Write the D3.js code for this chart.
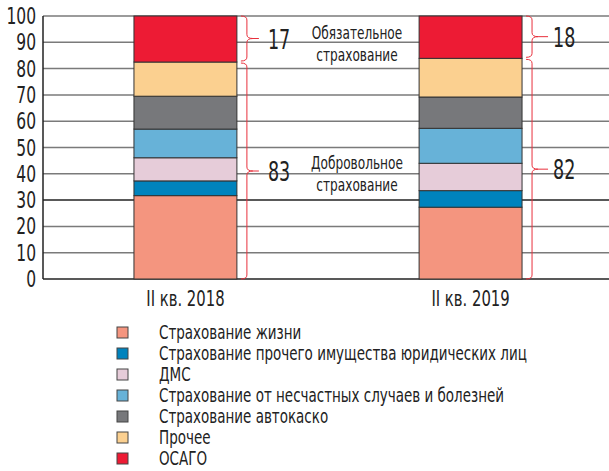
<!DOCTYPE html>
<html>
<head>
<meta charset="utf-8">
<script src="https://cdn.jsdelivr.net/npm/d3@7"></script>
<style>
  body { margin: 0; background: #fff; }
  text { font-family: "DejaVu Sans Condensed", "Liberation Sans Narrow", sans-serif; fill: #222; }
</style>
</head>
<body>
<svg id="chart"></svg>
<script>
// Data
const periods = ['II кв. 2018', 'II кв. 2019'];
const seriesNames = [
  'Страхование жизни',
  'Страхование прочего имущества юридических лиц',
  'ДМС',
  'Страхование от несчастных случаев и болезней',
  'Страхование автокаско',
  'Прочее',
  'ОСАГО'
];
const seriesColors = ['#f4957f', '#0083bd', '#e6ccd9', '#67b2d8', '#77787b', '#fbd090', '#ed1b34'];
const values2018 = [31.7, 5.6, 8.8, 10.9, 12.5, 13.0, 17.5];
const values2019 = [27.3, 6.3, 10.4, 13.3, 11.9, 14.7, 16.1];
const yTicks = [0, 10, 20, 30, 40, 50, 60, 70, 80, 90, 100];
const mandatoryShare = [17, 18];
const voluntaryShare = [83, 82];

const width = 609;
const height = 471;
const plotLeft = 43;
const plotRight = 609;
const plotTop = 16;
const plotBottom = 279;
const squeeze = 0.75; // the original font is much narrower

const svg = d3.select('#chart')
  .attr('width', width)
  .attr('height', height);

// narrow text helper
function label(parent, tx, ty, str, size, anchor) {
  return parent.append('g')
    .attr('transform', `translate(${tx},${ty}) scale(${squeeze},1)`)
    .append('text')
    .attr('text-anchor', anchor || 'start')
    .attr('font-size', size + 'px')
    .text(str);
}

// Scales
const y = d3.scaleLinear().domain([0, 100]).range([plotBottom, plotTop]);
const x = d3.scaleBand()
  .domain(periods)
  .range([plotLeft, 613])
  .paddingInner(0.639)
  .paddingOuter(0.319);

// Grid lines
svg.append('g')
  .selectAll('line')
  .data(yTicks)
  .enter()
  .append('line')
  .attr('x1', plotLeft)
  .attr('x2', plotRight)
  .attr('y1', d => y(d))
  .attr('y2', d => y(d))
  .attr('stroke', d => (d === 0 || d === 30) ? '#222' : '#7a7a7a')
  .attr('stroke-width', 1.5);

// Left axis line
svg.append('line')
  .attr('x1', plotLeft).attr('x2', plotLeft)
  .attr('y1', y(0)).attr('y2', y(100))
  .attr('stroke', '#222')
  .attr('stroke-width', 1.5);

// Y tick labels
yTicks.forEach(t => label(svg, 36, y(t) + 8, t, 23, 'end'));

// Stacked bars
const rows = [values2018, values2019];
rows.forEach((vals, i) => {
  let acc = 0;
  const segs = vals.map((v, k) => {
    const s = { y0: acc, y1: acc + v, color: seriesColors[k] };
    acc += v;
    return s;
  });
  svg.append('g')
    .selectAll('rect')
    .data(segs)
    .enter()
    .append('rect')
    .attr('x', x(periods[i]))
    .attr('width', x.bandwidth())
    .attr('y', d => y(d.y1))
    .attr('height', d => y(d.y0) - y(d.y1))
    .attr('fill', d => d.color)
    .attr('stroke', '#333')
    .attr('stroke-width', 1);

  // Period label
  label(svg, x(periods[i]) + x.bandwidth() / 2, 306, periods[i], 22, 'middle');
});

// Curly brace path
function brace(bx, ya, yb, w) {
  const mid = (ya + yb) / 2;
  const h = w / 2;
  const r = 4;
  return `M${bx},${ya} Q${bx + h},${ya} ${bx + h},${ya + r} L${bx + h},${mid - r} ` +
    `Q${bx + h},${mid} ${bx + w},${mid} Q${bx + h},${mid} ${bx + h},${mid + r} ` +
    `L${bx + h},${yb - r} Q${bx + h},${yb} ${bx},${yb}`;
}

rows.forEach((vals, i) => {
  const bx = x(periods[i]) + x.bandwidth() + 4;
  const split = d3.sum(vals.slice(0, 6));
  const groups = [
    { a: y(100), b: y(split) - 1, label: mandatoryShare[i] },
    { a: y(split) + 1, b: y(0), label: voluntaryShare[i] }
  ];
  groups.forEach(g => {
    const mid = (g.a + g.b) / 2;
    svg.append('path')
      .attr('d', brace(bx, g.a, g.b, 12))
      .attr('fill', 'none')
      .attr('stroke', '#e8303c')
      .attr('stroke-width', 1);
    svg.append('line')
      .attr('x1', bx + 12).attr('x2', bx + (i === 0 ? 18 : 22))
      .attr('y1', mid).attr('y2', mid)
      .attr('stroke', '#e8303c')
      .attr('stroke-width', 1);
    label(svg, bx + 27, mid + 10, g.label, 26);
  });
});

// Annotations between bars
const notes = [
  { lines: ['Обязательное', 'страхование'], y0: 39 },
  { lines: ['Добровольное', 'страхование'], y0: 169 }
];
notes.forEach(n => {
  n.lines.forEach((l, k) => label(svg, 357, n.y0 + k * 22, l, 18, 'middle'));
});

// Legend
const legend = svg.append('g')
  .selectAll('g')
  .data(seriesNames)
  .enter()
  .append('g')
  .attr('transform', (d, i) => `translate(117, ${332 + i * 21})`);

legend.append('rect')
  .attr('x', 0)
  .attr('y', -5)
  .attr('width', 11)
  .attr('height', 11)
  .attr('fill', (d, i) => seriesColors[i])
  .attr('stroke', '#444')
  .attr('stroke-width', 1);

legend.each(function(d) {
  label(d3.select(this), 42, 7, d, 20);
});
</script>
</body>
</html>
